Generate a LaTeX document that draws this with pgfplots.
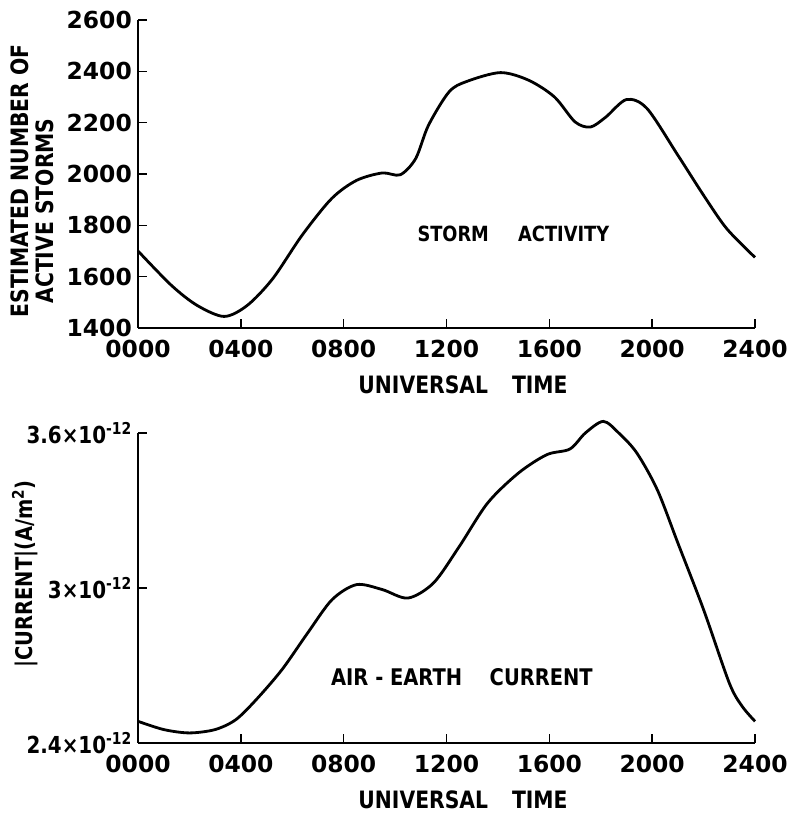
\documentclass[border=0pt]{standalone}
\usepackage{fontspec}
\setmainfont{DejaVu Sans}
\newfontfamily\cond{DejaVu Sans}[FakeStretch=0.85]
\usepackage{pgfplots}
\pgfplotsset{compat=1.18}

\pgfplotsset{
  oldchart/.style={
    scale only axis,
    width=617bp,
    xmin=0, xmax=24,
    axis x line=bottom, axis y line=left,
    axis line style={-, line width=1.8bp},
    tick align=inside,
    major tick length=9bp,
    tick style={line width=1.6bp, black},
    xtick={0,4,8,12,16,20,24},
    xticklabels={0000,0400,0800,1200,1600,2000,2400},
    tick label style={font=\fontsize{23.5}{23.5}\selectfont\bfseries, inner sep=0bp},
    xticklabel style={yshift=-12bp},
    yticklabel style={xshift=-6bp},
    clip=false,
  }
}

\begin{document}
\begin{tikzpicture}[x=1bp,y=1bp]
\path[use as bounding box] (0,0) rectangle (787,814);

% storm activity
\begin{axis}[oldchart,
  at={(138bp,486bp)}, anchor=south west,
  height=308bp,
  ymin=1400, ymax=2600,
  ytick={1400,1600,...,2600},
  yticklabels={1400,1600,1800,2000,2200,2400,2600},
]
\addplot[smooth, line width=2.8bp, black] coordinates {
(0,1700) (1.3,1566) (2.3,1488) (3.35,1445) (4.25,1488) (5.24,1592)
(6.38,1761) (7.53,1904) (8.5,1975) (9.5,2004) (10.2,1997) (10.8,2060)
(11.3,2190) (12.1,2320) (12.8,2361) (14.1,2395) (15.2,2365) (16.2,2300)
(17.0,2203) (17.6,2183) (18.2,2222) (19.0,2290) (19.8,2255) (21.0,2073)
(22.0,1917) (22.9,1787) (24,1675)
};
\node[font=\cond\fontsize{21}{21}\selectfont\bfseries] at (axis cs:14.6,1766) {STORM\hspace{1.4em}ACTIVITY};
\end{axis}

% air-earth current
\begin{axis}[oldchart,
  at={(138bp,71bp)}, anchor=south west,
  height=310bp,
  ymin=2.4, ymax=3.6,
  ytick={2.4,3,3.6},
  yticklabel style={font=\cond\fontsize{23.5}{23.5}\selectfont\bfseries},
  yticklabels={2.4×10\textsuperscript{-12},3×10\textsuperscript{-12},3.6×10\textsuperscript{-12}},
]
\addplot[smooth, line width=2.8bp, black] coordinates {
(0,2.484) (1,2.452) (2,2.439) (3,2.452) (3.8,2.49) (4.6,2.568) (5.6,2.684)
(6.6,2.826) (7.55,2.955) (8.5,3.013) (9.5,2.994) (10.5,2.961) (11.5,3.02)
(12.5,3.161) (13.6,3.329) (14.8,3.445) (15.9,3.516) (16.8,3.538) (17.4,3.6)
(18.1,3.645) (18.7,3.6) (19.4,3.523) (20.2,3.38) (21.0,3.174) (22.0,2.916)
(23.0,2.632) (23.5,2.542) (24,2.484)
};
\node[font=\cond\fontsize{23}{23}\selectfont\bfseries] at (axis cs:12.6,2.655) {AIR - EARTH\hspace{1.2em}CURRENT};
\end{axis}

\node[font=\cond\fontsize{24}{24}\selectfont\bfseries] at (463,429) {UNIVERSAL\hspace{1em}TIME};
\node[font=\cond\fontsize{24}{24}\selectfont\bfseries] at (463,14) {UNIVERSAL\hspace{1em}TIME};
\node[rotate=90, font=\cond\fontsize{24}{24}\selectfont\bfseries] at (20,633) {ESTIMATED NUMBER OF};
\node[rotate=90, font=\cond\fontsize{24}{24}\selectfont\bfseries] at (45,603) {ACTIVE STORMS};
\node[rotate=90, font=\cond\fontsize{23}{23}\selectfont\bfseries] at (25,240) {|CURRENT|(A/m\textsuperscript{2})};
\end{tikzpicture}
\end{document}
